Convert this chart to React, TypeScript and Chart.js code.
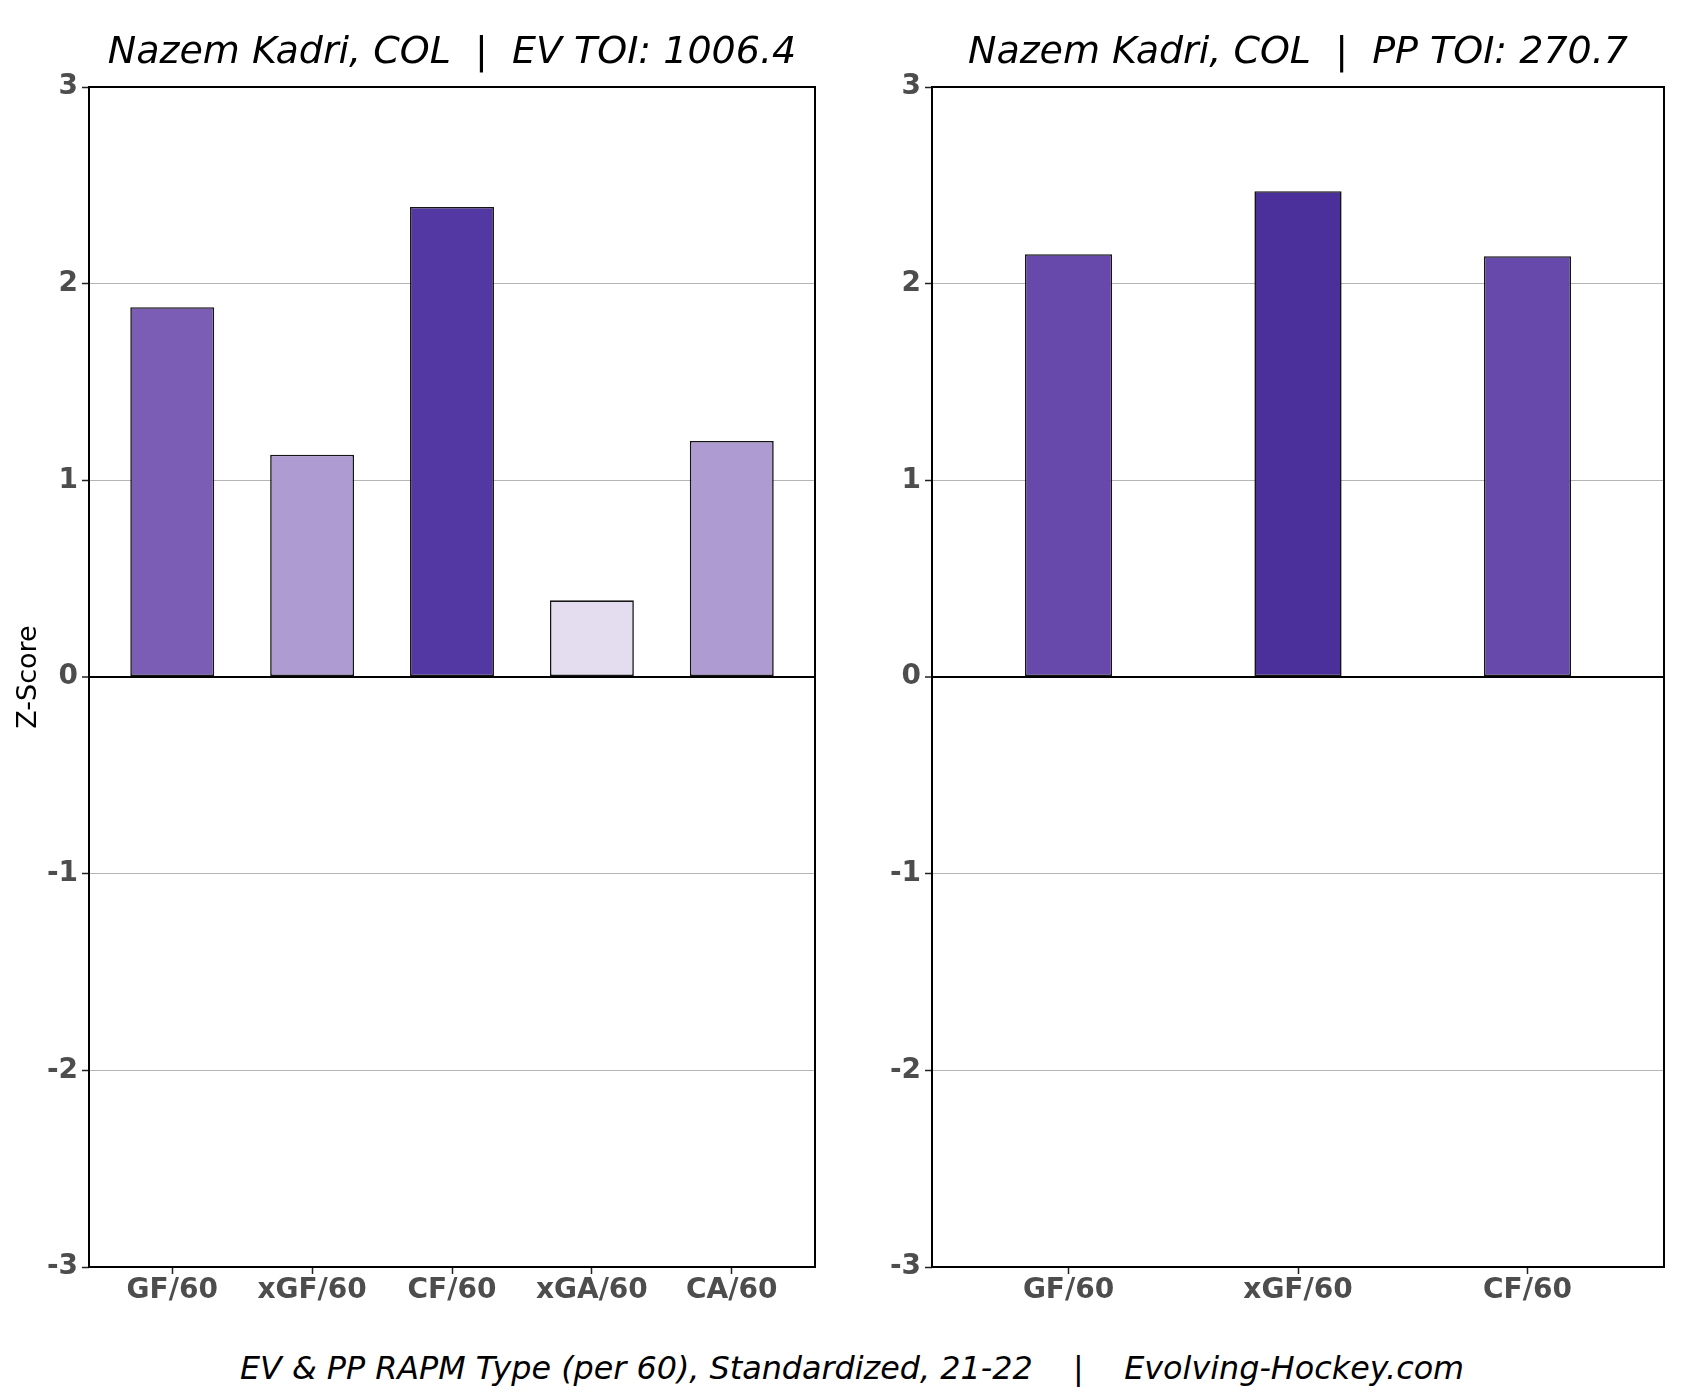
import React, { useEffect, useRef } from 'react';
import { Chart, registerables } from 'chart.js';

Chart.register(...registerables);

const evCategories = ['GF/60', 'xGF/60', 'CF/60', 'xGA/60', 'CA/60'];
const evValues = [1.88, 1.13, 2.39, 0.39, 1.2];
const evColors = ['#7b5db6', '#ad9bd1', '#5338a3', '#e3ddef', '#ad9bd1'];

const ppCategories = ['GF/60', 'xGF/60', 'CF/60'];
const ppValues = [2.15, 2.47, 2.14];
const ppColors = ['#6749ab', '#4b2f9b', '#6749ab'];

const yTicks = [-3, -2, -1, 0, 1, 2, 3];

const evTitle = 'Nazem Kadri, COL  |  EV TOI: 1006.4';
const ppTitle = 'Nazem Kadri, COL  |  PP TOI: 270.7';
const yTitle = 'Z-Score';
const footerText = 'EV & PP RAPM Type (per 60), Standardized, 21-22    |    Evolving-Hockey.com';

const FONT = "'DejaVu Sans', sans-serif";

const framePlugin = {
  id: 'frame',
  afterDraw(chart: any) {
    const { ctx, chartArea } = chart;
    const { left, top, right, bottom } = chartArea;
    ctx.save();
    ctx.strokeStyle = '#000';
    ctx.lineWidth = 2;
    ctx.strokeRect(left, top, right - left, bottom - top);
    ctx.restore();
  },
};

function makeChart(
  canvas: HTMLCanvasElement,
  cats: string[],
  vals: number[],
  colors: string[],
  title: string,
  showYTitle: boolean,
  yAxisWidth: number,
  rightPad: number,
  barPct: number
) {
  return new Chart(canvas, {
    type: 'bar',
    data: {
      datasets: [
        {
          data: vals.map((v, i) => ({ x: i, y: v })),
          backgroundColor: colors,
          borderColor: '#151515',
          borderWidth: 1.6,
          borderSkipped: false,
          categoryPercentage: 1,
          barPercentage: barPct,
        } as any,
      ],
    },
    options: {
      animation: false,
      responsive: false,
      devicePixelRatio: 1,
      layout: { padding: { left: 0, right: rightPad, top: 0, bottom: 0 } },
      plugins: {
        legend: { display: false },
        tooltip: { enabled: false },
        title: {
          display: true,
          text: title,
          fullSize: false,
          color: '#000',
          font: { family: FONT, size: 38, style: 'italic', weight: 'normal' },
          padding: { top: 30.2, bottom: 11.2 },
        },
      },
      scales: {
        x: {
          type: 'linear',
          offset: false,
          min: -0.595,
          max: cats.length - 1 + 0.595,
          afterBuildTicks: (a: any) => {
            a.ticks = cats.map((_, i) => ({ value: i }));
          },
          afterFit: (a: any) => {
            a.height = 53;
          },
          ticks: {
            callback: (v: any) => (cats[v as number] ?? ''),
            color: '#4d4d4d',
            font: { family: FONT, size: 28, weight: 'bold' },
            padding: 0,
            maxRotation: 0,
            autoSkip: false,
          },
          grid: {
            offset: false,
            drawOnChartArea: false,
            drawTicks: true,
            tickLength: 7,
            tickColor: '#222',
            tickWidth: 1.5,
          },
          border: { display: false },
        },
        y: {
          type: 'linear',
          min: -3,
          max: 3,
          afterBuildTicks: (a: any) => {
            a.ticks = yTicks.map((v) => ({ value: v }));
          },
          afterFit: (a: any) => {
            a.width = yAxisWidth;
          },
          ticks: {
            callback: (v: any) => String(v),
            color: '#4d4d4d',
            font: { family: FONT, size: 28, weight: 'bold' },
            padding: 4,
          },
          grid: {
            color: (c: any) => (c.tick && c.tick.value === 0 ? '#000' : '#b5b5b5'),
            lineWidth: (c: any) => (c.tick && c.tick.value === 0 ? 2 : 1),
            tickLength: 7,
            tickColor: '#222',
            tickWidth: 1.5,
          },
          border: { display: false },
          title: {
            display: showYTitle,
            text: yTitle,
            color: '#000',
            font: { family: FONT, size: 27, weight: 'normal' },
            padding: { top: 12.8, bottom: 0 },
          },
        },
      },
    } as any,
    plugins: [framePlugin],
  });
}

export default function App() {
  const leftRef = useRef<HTMLCanvasElement>(null);
  const rightRef = useRef<HTMLCanvasElement>(null);

  useEffect(() => {
    const c1 = makeChart(leftRef.current!, evCategories, evValues, evColors, evTitle, true, 89, 35, 0.6);
    const c2 = makeChart(rightRef.current!, ppCategories, ppValues, ppColors, ppTitle, false, 82, 36, 0.38);
    return () => {
      c1.destroy();
      c2.destroy();
    };
  }, []);

  return (
    <div
      style={{
        position: 'fixed',
        left: 0,
        top: 0,
        width: 1700,
        height: 1400,
        background: '#fff',
        overflow: 'hidden',
      }}
    >
      <canvas
        ref={leftRef}
        width={850}
        height={1320}
        style={{ position: 'absolute', left: 0, top: 0, width: 850, height: 1320 }}
      />
      <canvas
        ref={rightRef}
        width={850}
        height={1320}
        style={{ position: 'absolute', left: 850, top: 0, width: 850, height: 1320 }}
      />
      <div
        style={{
          position: 'absolute',
          left: 2,
          top: 1349,
          width: 1700,
          textAlign: 'center',
          fontFamily: FONT,
          fontStyle: 'italic',
          fontSize: 31.8,
          lineHeight: '38px',
          whiteSpace: 'pre',
          color: '#000',
        }}
      >
        {footerText}
      </div>
    </div>
  );
}
